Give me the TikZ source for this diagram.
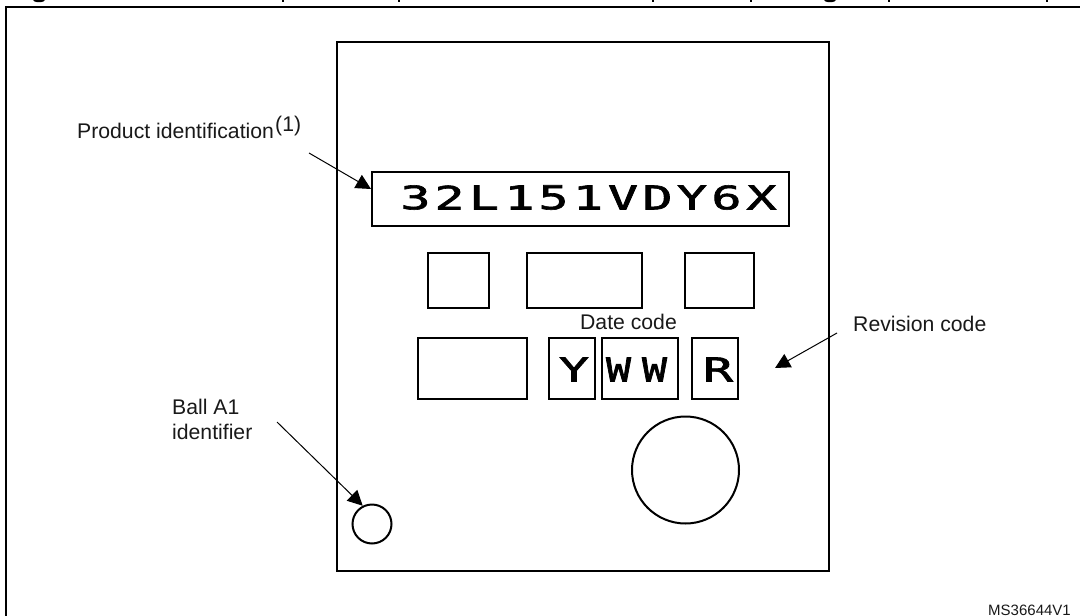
\documentclass[tikz,border=0pt]{standalone}
\usepackage{fontspec}
\usepackage{graphicx}
\setmainfont{Liberation Sans}
\newfontfamily\ledfont[FakeBold=1.8]{DejaVu Sans Mono}
\usetikzlibrary{arrows.meta}
\tikzset{
  label text/.style={inner sep=0pt,anchor=base west,font=\fontsize{21.2}{25}\selectfont,text=black!90},
  small text/.style={inner sep=0pt,anchor=base east,font=\fontsize{15}{18}\selectfont,text=black!90},
  boxed/.style={draw=black,line width=2pt,fill=none},
  pointer/.style={draw=black,line width=1pt,-{Triangle[length=15pt,width=15pt]}},
  led/.style={inner sep=0pt,anchor=center},
  title ink/.style={fill=black}
}
\newcommand{\ledchar}[3]{\resizebox{#1pt}{#2pt}{\ledfont #3}}
\begin{document}
\begin{tikzpicture}[x=1pt,y=-1pt]
\useasboundingbox (0,0) rectangle (1080,616);
\fill[white] (0,0) rectangle (1080,616);
% remnants of the cut-off title
\foreach \xa/\w/\h in {39/6/2.2,830/6/2.2}{
  \fill[title ink] (\xa-\w,0) arc[start angle=180,end angle=360,x radius=\w,y radius=-\h] -- cycle;
}
\foreach \xa in {283,399,653,751,889,1047}{
  \fill[title ink] (\xa-1,0) rectangle (\xa+1,1.6);
}
% frame
\draw[line width=2pt,line cap=butt] (6,616) -- (6,6.5) -- (1080,6.5);
% chip
\node[draw=black,line width=2.5pt,minimum width=492pt,minimum height=529pt,inner sep=0pt] (chip) at (583,306.5) {};
% product line
\node[boxed,minimum width=417pt,minimum height=54pt,inner sep=0pt] (prod) at (580.5,199) {};
\foreach \cx/\ch/\nm in {415.5/3/a,449.5/2/b,484/L/c,519.5/1/d,553.5/5/e,588/1/f,623/V/g,657.5/D/h,692/Y/i,726.5/6/j,761.5/X/k}{
  \node[led] (led\nm) at (\cx,197.5) {\ledchar{30}{24}{\ch}};
}
% empty marking boxes
\node[boxed,minimum width=61pt,minimum height=55pt,inner sep=0pt] (b1) at (458.5,280.5) {};
\node[boxed,minimum width=115pt,minimum height=55pt,inner sep=0pt] (b2) at (584.5,280.5) {};
\node[boxed,minimum width=69pt,minimum height=55pt,inner sep=0pt] (b3) at (719.5,280.5) {};
\node[boxed,minimum width=109pt,minimum height=61pt,inner sep=0pt] (b4) at (472.5,368.5) {};
\node[boxed,minimum width=46pt,minimum height=61pt,inner sep=0pt] (by) at (572,368.5) {};
\node[boxed,minimum width=76pt,minimum height=61pt,inner sep=0pt] (bw) at (640,368.5) {};
\node[boxed,minimum width=46pt,minimum height=61pt,inner sep=0pt] (br) at (715,368.5) {};
\node[led] (ly) at (574,369.5) {\ledchar{30}{24}{Y}};
\node[led] (lw1) at (618.5,369.5) {\ledchar{25}{24}{W}};
\node[led] (lw2) at (654.5,369.5) {\ledchar{25}{24}{W}};
\node[led] (lr) at (718,369.5) {\ledchar{30}{24}{R}};
% circles
\node[draw=black,line width=2pt,circle,minimum size=107pt,inner sep=0pt] (big) at (685.5,470) {};
\node[draw=black,line width=2pt,circle,minimum size=39pt,inner sep=0pt] (ball) at (372,524) {};
% labels
\node[label text] (tprod) at (77,138) {Product identification};
\node[label text] (tone) at (275,131) {(1)};
\node[label text,anchor=base] (tdate) at (628.5,329) {Date code};
\node[label text] (trev) at (853,331) {Revision code};
\node[label text] (tball) at (172,414) {Ball A1};
\node[label text] (tid) at (172,439) {identifier};
\node[small text] (tms) at (1071,615) {MS36644V1};
% connectors
\coordinate (pfrom) at (309,153);
\coordinate (ptip) at (371,189);
\coordinate (bfrom) at (277,422);
\coordinate (rfrom) at (837,333);
\coordinate (rtip) at (775,368);
\draw[pointer] (pfrom) -- (ptip);
\draw[pointer] (bfrom) -- (ball.117);
\draw[pointer] (rfrom) -- (rtip);
\end{tikzpicture}
\end{document}
